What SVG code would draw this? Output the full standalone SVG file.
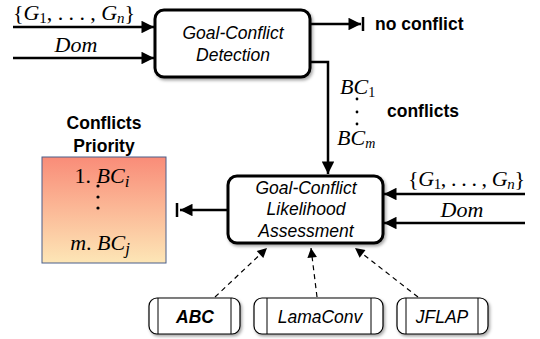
<svg xmlns="http://www.w3.org/2000/svg" width="540" height="339" viewBox="0 0 540 339">
<style>
.box{fill:#fff;stroke:#000;stroke-width:3}
.lbl{font-family:"Liberation Sans",Arial,sans-serif;font-style:italic;font-size:17.5px;text-anchor:middle}
.bold{font-family:"Liberation Sans",Arial,sans-serif;font-weight:bold;font-size:17.5px}
.math{font-family:"Liberation Serif","Times New Roman",serif;font-size:22px}
.mi{font-style:italic}
.line{fill:none;stroke:#000;stroke-width:2.5}
.dash{fill:none;stroke:#000;stroke-width:1.2;stroke-dasharray:5 4}
.tool{fill:#fff;stroke:#000;stroke-width:1.2}
</style>
<defs>
<marker id="ah" viewBox="0 0 10 10" refX="10" refY="5" markerWidth="5.5" markerHeight="5" orient="auto" markerUnits="strokeWidth">
<path d="M0,0 L10,5 L0,10 z" fill="#000"/>
</marker>
<marker id="ahs" viewBox="0 0 10 10" refX="10" refY="5" markerWidth="9" markerHeight="8" orient="auto" markerUnits="strokeWidth">
<path d="M0,0 L10,5 L0,10 z" fill="#000"/>
</marker>
<linearGradient id="grad" x1="0" y1="0" x2="0" y2="1">
<stop offset="0" stop-color="#f98c78"/>
<stop offset="1" stop-color="#fde6b6"/>
</linearGradient>
<filter id="sh" x="-10%" y="-10%" width="130%" height="130%">
<feDropShadow dx="1.5" dy="2" stdDeviation="1.5" flood-color="#000" flood-opacity="0.35"/>
</filter>
</defs>

<g id="connectors">
<line class="line" x1="13" y1="27" x2="154" y2="27" marker-end="url(#ah)"/>
<line class="line" x1="13" y1="58" x2="154" y2="58" marker-end="url(#ah)"/>
<line class="line" x1="311" y1="24" x2="361" y2="24" marker-end="url(#ah)"/>
<line x1="363" y1="17" x2="363" y2="31" stroke="#000" stroke-width="2.5"/>
<polyline class="line" points="311,62 328,62 328,174" marker-end="url(#ah)"/>
<line class="line" x1="525" y1="194" x2="384" y2="194" marker-end="url(#ah)"/>
<line class="line" x1="525" y1="223" x2="384" y2="223" marker-end="url(#ah)"/>
<line class="line" x1="227" y1="210" x2="180" y2="210" marker-end="url(#ah)"/>
<line x1="177" y1="203" x2="177" y2="217" stroke="#000" stroke-width="2.5"/>
<line class="dash" x1="215" y1="297" x2="267" y2="248" marker-end="url(#ahs)"/>
<line class="dash" x1="317" y1="297" x2="311" y2="248" marker-end="url(#ahs)"/>
<line class="dash" x1="418" y1="297" x2="355" y2="248" marker-end="url(#ahs)"/>
</g>

<g id="inputs-top">
<text class="math" x="13" y="20" textLength="122">{<tspan class="mi">G</tspan><tspan font-size="15" dy="3">1</tspan><tspan dy="-3">, . . . , </tspan><tspan class="mi">G</tspan><tspan class="mi" font-size="15" dy="3">n</tspan><tspan dy="-3">}</tspan></text>
<text class="math mi" x="76" y="52" text-anchor="middle">Dom</text>
</g>

<g id="detection">
<rect class="box" x="155" y="10" width="155" height="67" rx="9" filter="url(#sh)"/>
<text class="lbl" x="233" y="39">Goal-Conflict</text>
<text class="lbl" x="233" y="61">Detection</text>
</g>

<g id="no-conflict">
<text class="bold" x="375" y="30">no conflict</text>
</g>

<g id="conflicts-label">
<text class="math" x="340" y="94" font-size="20"><tspan class="mi">BC</tspan><tspan font-size="14" dy="3">1</tspan></text>
<circle cx="357" cy="99" r="1.4"/>
<circle cx="357" cy="112" r="1.4"/>
<circle cx="357" cy="124" r="1.4"/>
<text class="math" x="337" y="145" font-size="20"><tspan class="mi">BC</tspan><tspan class="mi" font-size="14" dy="3">m</tspan></text>
<text class="bold" x="387" y="117">conflicts</text>
</g>

<g id="likelihood">
<rect class="box" x="228" y="176" width="155" height="67" rx="9" filter="url(#sh)"/>
<text class="lbl" x="306" y="194">Goal-Conflict</text>
<text class="lbl" x="306" y="215">Likelihood</text>
<text class="lbl" x="306" y="237">Assessment</text>
</g>

<g id="inputs-right">
<text class="math" x="408" y="186" textLength="117">{<tspan class="mi">G</tspan><tspan font-size="15" dy="3">1</tspan><tspan dy="-3">, . . . , </tspan><tspan class="mi">G</tspan><tspan class="mi" font-size="15" dy="3">n</tspan><tspan dy="-3">}</tspan></text>
<text class="math mi" x="462" y="217" text-anchor="middle">Dom</text>
</g>

<g id="priority">
<text class="bold" x="104" y="129" text-anchor="middle">Conflicts</text>
<text class="bold" x="104" y="152" text-anchor="middle">Priority</text>
<rect x="42" y="157" width="124" height="106" fill="url(#grad)" stroke="#4a5f8a" stroke-width="1"/>
<text class="math" x="102" y="183" font-size="25" text-anchor="middle">1. <tspan class="mi">BC</tspan><tspan class="mi" font-size="17" dy="4">i</tspan></text>
<circle cx="98" cy="186" r="1.6"/>
<circle cx="98" cy="197" r="1.6"/>
<circle cx="98" cy="208" r="1.6"/>
<text class="math" x="100" y="250" font-size="25" text-anchor="middle"><tspan class="mi">m</tspan>. <tspan class="mi">BC</tspan><tspan class="mi" font-size="17" dy="4">j</tspan></text>
</g>

<g id="abc">
<rect class="tool" x="149" y="298" width="91" height="36" rx="8" filter="url(#sh)"/>
<line x1="158" y1="298" x2="158" y2="334" stroke="#000" stroke-width="1"/>
<line x1="231" y1="298" x2="231" y2="334" stroke="#000" stroke-width="1"/>
<text class="lbl" x="195" y="323" font-weight="bold">ABC</text>
</g>

<g id="lamaconv">
<rect class="tool" x="254" y="298" width="129" height="36" rx="8" filter="url(#sh)"/>
<line x1="267" y1="298" x2="267" y2="334" stroke="#000" stroke-width="1"/>
<line x1="371" y1="298" x2="371" y2="334" stroke="#000" stroke-width="1"/>
<text class="lbl" x="320" y="323">LamaConv</text>
</g>

<g id="jflap">
<rect class="tool" x="397" y="298" width="91" height="36" rx="8" filter="url(#sh)"/>
<line x1="406" y1="298" x2="406" y2="334" stroke="#000" stroke-width="1"/>
<line x1="478" y1="298" x2="478" y2="334" stroke="#000" stroke-width="1"/>
<text class="lbl" x="442" y="323">JFLAP</text>
</g>
</svg>
